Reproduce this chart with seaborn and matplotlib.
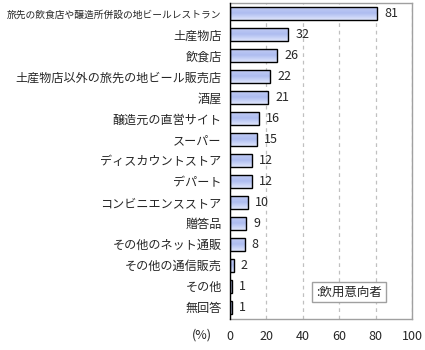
import matplotlib
matplotlib.use("Agg")
import matplotlib.pyplot as plt
import seaborn as sns
import numpy as np
import pandas as pd
from matplotlib.colors import LinearSegmentedColormap

categories = [
    "旅先の飲食店や醸造所併設の地ビールレストラン",
    "土産物店",
    "飲食店",
    "土産物店以外の旅先の地ビール販売店",
    "酒屋",
    "醸造元の直営サイト",
    "スーパー",
    "ディスカウントストア",
    "デパート",
    "コンビニエンスストア",
    "贈答品",
    "その他のネット通販",
    "その他の通信販売",
    "その他",
    "無回答",
]
values = [81, 32, 26, 22, 21, 16, 15, 12, 12, 10, 9, 8, 2, 1, 1]
xticks = [0, 20, 40, 60, 80, 100]
legend_label = ":飲用意向者"

sns.set_style("white")
plt.rcParams['font.family'] = ['Noto Sans CJK JP', 'DejaVu Sans']

df = pd.DataFrame({"cat": categories, "val": values})

fig = plt.figure(figsize=(4.25, 3.5), dpi=100)
ax = fig.add_axes([230/425, 31/350, 182/425, 316/350])

sns.barplot(data=df, x="val", y="cat", orient="h", color="#b8c4f0",
            edgecolor="#000000", linewidth=1.0, width=0.62, ax=ax, saturation=1)

# gradient fill inside each bar
cmap = LinearSegmentedColormap.from_list("g", ["#dfe6fc", "#aebcf0", "#c4cff5"])
grad = np.linspace(0, 1, 64).reshape(-1, 1)
for p in list(ax.patches):
    x0, y0 = p.get_x(), p.get_y()
    w, h = p.get_width(), p.get_height()
    im = ax.imshow(grad, cmap=cmap, aspect="auto", extent=(x0, x0 + w, y0, y0 + h),
                   origin="upper", zorder=p.get_zorder() + 0.1)
    im.set_clip_path(p)
    p.set_facecolor("none")
    p.set_zorder(p.get_zorder() + 0.2)

ax.set_xlim(0, 100)
ax.set_ylim(14.57, -0.48)
ax.set_aspect("auto")
ax.set_xticks(xticks)
ax.set_xticklabels([str(t) for t in xticks], fontsize=9)
ax.tick_params(axis="x", length=0, pad=8)
ax.tick_params(axis="y", which="major", length=0, pad=6, labelsize=8.7)
for lbl in ax.get_yticklabels():
    if lbl.get_text() == categories[0]:
        lbl.set_fontsize(7.0)
ax.set_yticks(np.arange(-0.5, 15, 1.0), minor=True)
ax.tick_params(axis="y", which="minor", length=3, width=1, color="black", direction="out")
ax.set_xlabel("")
ax.set_ylabel("")

ax.xaxis.grid(True, linestyle=(0, (3, 3)), color="#c0c0c0", linewidth=0.9)
ax.set_axisbelow(True)

for s in ["top", "right", "bottom"]:
    ax.spines[s].set_color("#a0a0a0")
    ax.spines[s].set_linewidth(1)
ax.spines["left"].set_color("black")
ax.spines["left"].set_linewidth(1)
ax.spines["left"].set_zorder(5)

for i, v in enumerate(values):
    ax.annotate(str(v), (v, i), xytext=(5, 0), textcoords="offset points",
                va="center", ha="left", fontsize=9)

fig.text(192/425, 1 - 335/350, "(%)", fontsize=9, ha="left", va="center")

ax.text(0.472, 0.085, legend_label, transform=ax.transAxes, fontsize=9,
        ha="left", va="center",
        bbox=dict(boxstyle="square,pad=0.3", fc="white", ec="#a0a0a0", lw=1))

fig.savefig("out.png", dpi=100)
